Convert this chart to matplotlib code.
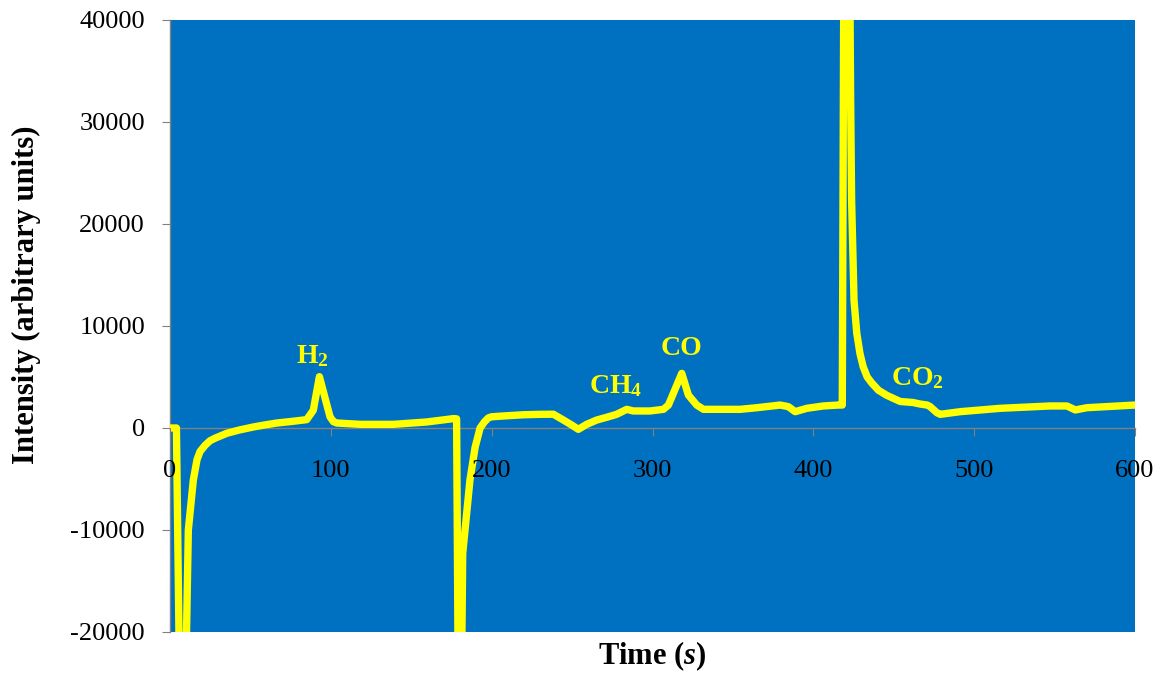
import matplotlib
matplotlib.use("Agg")
import matplotlib.pyplot as plt

plt.rcParams['font.family'] = 'Liberation Serif'
plt.rcParams['mathtext.fontset'] = 'custom'
plt.rcParams['mathtext.it'] = 'Liberation Serif:italic:bold'
plt.rcParams['mathtext.default'] = 'regular'
plt.rcParams['axes.unicode_minus'] = False

# signal trace: time (s) and intensity (arbitrary units)
time_s = [0, 4, 7.5, 11.4, 14.5, 16.8, 18.7, 21.8, 24.9, 28, 35.3, 43, 51.8,
          59, 66.4, 76, 85, 89.1, 92.9, 99.5, 101.6, 103.7, 118.2, 138.9,
          159.6, 176.2, 178.2, 180, 182, 186.5, 189.7, 192.8, 195.5, 198,
          200, 207.3, 220, 230.1, 238.4, 244.6, 249.8, 253.9, 259.1, 265.3,
          271.5, 277.7, 284, 288, 298.5, 306.8, 309.9, 318.2, 322.3, 327.5,
          331.7, 354.5, 364.9, 379.4, 384.5, 388.7, 396, 406.2, 415.6, 418,
          420.2, 423.2, 423.8, 425.3, 427, 429, 431, 433.5, 436.4, 440.5,
          445.7, 454, 462, 466.4, 470.8, 472.6, 476.8, 478.9, 491.3, 516.2,
          547.3, 557.7, 562.9, 570.1, 600]
intensity = [0, 0, -45000, -10000, -5100, -3100, -2300, -1700, -1250, -1000,
             -520, -200, 100, 300, 490, 650, 820, 1740, 5030, 1100, 620, 490,
             360, 360, 590, 920, 900, -45000, -12300, -5100, -1900, 0, 600,
             1000, 1100, 1180, 1300, 1340, 1350, 780, 290, -130, 360, 780,
             1050, 1340, 1830, 1670, 1670, 1830, 2250, 5360, 3230, 2250, 1830,
             1830, 1990, 2250, 2090, 1600, 1930, 2160, 2250, 2250, 100000,
             32100, 22300, 12500, 9300, 7300, 6000, 5000, 4400, 3700,
             3200, 2600, 2500, 2350, 2250, 2100, 1500, 1340, 1600, 1930,
             2160, 2160, 1770, 1990, 2250]

peak_labels = ['H$_2$', 'CH$_4$', 'CO', 'CO$_2$']
x_ticks = [0, 100, 200, 300, 400, 500, 600]
y_ticks = [-20000, -10000, 0, 10000, 20000, 30000, 40000]

fig = plt.figure(figsize=(11.62, 6.75), dpi=100)
ax = fig.add_axes([170 / 1162, 1 - 632 / 675, 965 / 1162, 612 / 675])
ax.set_facecolor('#0070C0')

ax.plot(time_s, intensity, color='#FFFF00', lw=5.3,
        solid_joinstyle='round', solid_capstyle='round', zorder=2)

ax.set_xlim(0, 600)
ax.set_ylim(-20000, 40000)
ax.set_xticks(x_ticks)
ax.set_yticks(y_ticks)

for side in ('top', 'right'):
    ax.spines[side].set_visible(False)
ax.spines['bottom'].set_position(('data', 0))
for side in ('left', 'bottom'):
    ax.spines[side].set_color('#808080')
    ax.spines[side].set_linewidth(1)
    ax.spines[side].set_zorder(1.5)

ax.set_axisbelow(False)
ax.tick_params(axis='x', direction='out', length=6, color='#808080',
               labelsize=19, pad=17)
ax.tick_params(axis='y', direction='out', length=6, color='#808080',
               labelsize=19, pad=12)

# peak labels
label_pos = [(88.6, 6370), (277.3, 3460), (318.1, 7150), (464.9, 4210)]
for txt, (px, py) in zip(peak_labels, label_pos):
    ax.text(px, py, txt, color='#FFFF00', fontsize=20, fontweight='bold',
            ha='center', va='baseline', zorder=4)

fig.text(26 / 1162, 1 - 295 / 675, 'Intensity (arbitrary units)',
         rotation=90, ha='center', va='center', fontsize=22, fontweight='bold')
fig.text(652 / 1162, 1 - 656 / 675, r'Time ($\it{s}$)',
         ha='center', va='center', fontsize=22, fontweight='bold')

fig.savefig('out.png', dpi=100)
